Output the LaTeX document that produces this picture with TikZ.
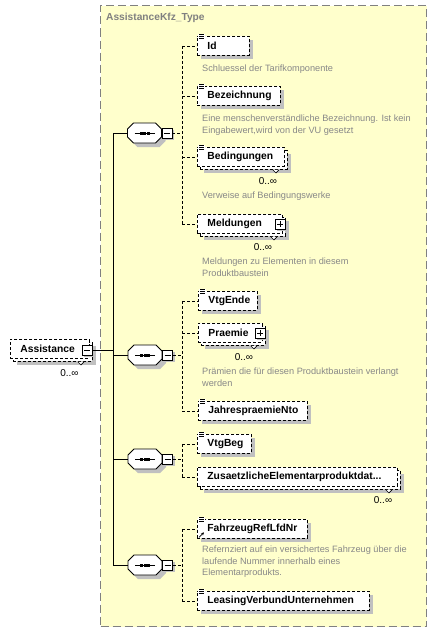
\documentclass[tikz,border=0pt]{standalone}
\usepackage{fontspec}
\setmainfont{Liberation Sans}
\usetikzlibrary{shadows,calc,arrows.meta}
\definecolor{bgyel}{RGB}{255,255,204}
\definecolor{shgray}{RGB}{192,192,192}
\definecolor{ttgray}{RGB}{128,128,128}
\definecolor{dsgray}{RGB}{136,136,136}
\definecolor{frgray}{RGB}{128,128,128}
\newcommand\elabel[2]{\makebox[#1][l]{\hspace{10pt}#2}}
\tikzset{
 ebase/.style={draw=black, fill=white, line width=0.9pt, dash pattern=on 3pt off 2pt, anchor=north west, minimum height=19pt, inner xsep=0pt, inner ysep=0pt, font=\fontsize{10.3}{12}\selectfont\bfseries},
 elem/.style={ebase, general shadow={fill=shgray, shadow xshift=4pt, shadow yshift=-4pt}},
 elemm/.style={ebase, general shadow={fill=shgray, shadow xshift=7pt, shadow yshift=-7pt}, general shadow={fill=white, draw=black, line width=0.9pt, dash pattern=on 3pt off 2pt, shadow xshift=3pt, shadow yshift=-3pt}},
 cont/.style={draw=frgray, fill=bgyel, line width=1pt, dash pattern=on 8pt off 4pt, anchor=north west, minimum width=326pt, minimum height=621pt, inner sep=0pt},
 ttl/.style={anchor=west, text=ttgray, inner sep=0pt, font=\fontsize{10.2}{12}\selectfont\bfseries},
 desc/.style={anchor=north west, text=dsgray, inner sep=0pt, align=left, font=\fontsize{9.2}{11.2}\selectfont},
 occ/.style={inner sep=0pt, font=\fontsize{10}{12}\selectfont},
 seqn/.style={minimum width=34pt, minimum height=20pt, inner sep=0pt},
 seqpic/.pic={
   \fill[shgray] (-7,-6) -- (15,-6) -- (21,0) -- (21,8) -- (15,14) -- (-7,14) -- (-13,8) -- (-13,0) -- cycle;
   \draw[line width=0.9pt, fill=white] (-11,-10) -- (11,-10) -- (17,-4) -- (17,4) -- (11,10) -- (-11,10) -- (-17,4) -- (-17,-4) -- cycle;
   \draw[line width=1pt] (-10,0) -- (10,0);
   \foreach \dx in {-5,-1.5,2} \fill (\dx,-1.5) rectangle +(3,3);},
 pmbox/.style={draw=black, fill=white, line width=0.9pt, minimum size=10pt, inner sep=0pt,
   general shadow={fill=shgray, shadow xshift=2pt, shadow yshift=-2pt}},
 minus/.style={pmbox, path picture={\draw[line width=0.8pt] ($(path picture bounding box.center)+(-3pt,0pt)$) -- ($(path picture bounding box.center)+(3pt,0pt)$);}},
 plus/.style={pmbox, path picture={\draw[line width=0.8pt] ($(path picture bounding box.center)+(-3pt,0pt)$) -- ($(path picture bounding box.center)+(3pt,0pt)$) ($(path picture bounding box.center)+(0pt,-3pt)$) -- ($(path picture bounding box.center)+(0pt,3pt)$);}},
 conn/.style={line width=0.9pt},
 opt/.style={line width=0.9pt, dash pattern=on 3pt off 2pt},
 sicon/.pic={\fill[white] (1,-2.5) rectangle (7.5,3.5);
   \foreach \yy in {-1.5,0.5,2.5} \draw[line width=0.7pt] (2,\yy) -- (7,\yy);},
 notch/.style={line width=0.7pt, fill=white}
}
\begin{document}
\begin{tikzpicture}[x=1pt,y=-1pt]
\useasboundingbox (0,0) rectangle (436,632);
\fill[white] (0,0) rectangle (436,632);
\node[cont] (cont) at (100,5) {};
\node[ttl] (ttl) at (106,18) {AssistanceKfz\_Type};

% root element
\node[elemm] (asst) at (10,339) {\elabel{79pt}{Assistance}};
\node[minus] (apm) at ($(asst.east)+(-2.5,1.5)$) {};
\draw[notch] ($(asst.south east)+(-12,3)$) -- ++(3,3) -- ++(3,-3);
\node[occ] (asocc) at (69.5,373) {0..∞};

% sequences
\node[seqn] (s1) at (144.5,133) {};
\pic at (s1) {seqpic};
\node[minus] (s1m) at (167,133) {};
\node[seqn] (s2) at (145,355) {};
\pic at (s2) {seqpic};
\node[minus] (s2m) at (167.5,355) {};
\node[seqn] (s3) at (145,459) {};
\pic at (s3) {seqpic};
\node[minus] (s3m) at (167.5,459) {};
\node[seqn] (s4) at (145,565) {};
\pic at (s4) {seqpic};
\node[minus] (s4m) at (167.5,565) {};

% main trunk
\coordinate (tr) at (113,0);
\draw[conn] (apm.east) -- (tr |- apm.east);
\draw[conn] (tr |- s1.west) -- (tr |- s4.west);
\foreach \s in {s1,s2,s3,s4} \draw[conn] (tr |- \s.west) -- (\s.west);

% ---- sequence 1 children
\node[elem] (id) at (197,36) {\elabel{52pt}{Id}};
\pic at (id.north west) {sicon};
\node[desc] (iddesc) at (202,65) {Schluessel der Tarifkomponente};

\node[elem] (bez) at (197,86) {\elabel{83pt}{Bezeichnung}};
\pic at (bez.north west) {sicon};
\node[desc] (bezdesc) at (202,115) {Eine menschenverständliche Bezeichnung. Ist kein\\Eingabewert,wird von der VU gesetzt};

\node[elemm] (bed) at (197,147) {\elabel{87pt}{Bedingungen}};
\pic at (bed.north west) {sicon};
\draw[notch] ($(bed.south east)+(-12,3)$) -- ++(3,3) -- ++(3,-3);
\node[occ] (bedocc) at (268,181) {0..∞};
\node[desc] (beddesc) at (202,192) {Verweise auf Bedingungswerke};

\node[elemm] (meld) at (197,214) {\elabel{85pt}{Meldungen}};
\node[plus] (meldp) at ($(meld.east)+(-2.5,0)$) {};
\draw[notch] ($(meld.south east)+(-12,3)$) -- ++(3,3) -- ++(3,-3);
\node[occ] (meldocc) at (263,247) {0..∞};
\node[desc] (melddesc) at (202,258) {Meldungen zu Elementen in diesem\\Produktbaustein};

\coordinate (b1) at (182,0);
\draw[opt] (s1m.east) -- (b1 |- s1m.east);
\draw[opt] (b1 |- id.west) -- (b1 |- meld.west);
\foreach \c in {id,bez,bed,meld} \draw[opt] (b1 |- \c.west) -- (\c.west);

% ---- sequence 2 children
\node[elem] (vtge) at (198,291) {\elabel{59pt}{VtgEnde}};
\pic at (vtge.north west) {sicon};

\node[elemm] (praem) at (198,323) {\elabel{64pt}{Praemie}};
\node[plus] (praemp) at ($(praem.east)+(-2.5,0)$) {};
\draw[notch] ($(praem.south east)+(-12,3)$) -- ++(3,3) -- ++(3,-3);
\node[occ] (praemocc) at (244,357) {0..∞};
\node[desc] (praemdesc) at (202,368) {Prämien die für diesen Produktbaustein verlangt\\werden};

\node[elem] (jahr) at (198,401) {\elabel{109pt}{JahrespraemieNto}};
\pic at (jahr.north west) {sicon};

\coordinate (b2) at (182,0);
\draw[opt] (s2m.east) -- (b2 |- s2m.east);
\draw[opt] (b2 |- vtge.west) -- (b2 |- jahr.west);
\foreach \c in {vtge,praem,jahr} \draw[opt] (b2 |- \c.west) -- (\c.west);

% ---- sequence 3 children
\node[elem] (vtgb) at (197,434) {\elabel{54pt}{VtgBeg}};
\pic at (vtgb.north west) {sicon};

\node[elemm] (zus) at (197,467) {\elabel{200pt}{ZusaetzlicheElementarproduktdat...}};
\draw[notch] ($(zus.south east)+(-12,3)$) -- ++(3,3) -- ++(3,-3);
\node[occ] (zusocc) at (383,500) {0..∞};

\coordinate (b3) at (182,0);
\draw[opt] (s3m.east) -- (b3 |- s3m.east);
\draw[opt] (b3 |- vtgb.west) -- (b3 |- zus.west);
\foreach \c in {vtgb,zus} \draw[opt] (b3 |- \c.west) -- (\c.west);

% ---- sequence 4 children
\node[elem] (fahr) at (197,519) {\elabel{110pt}{FahrzeugRefLfdNr}};
\pic at (fahr.north west) {sicon};
\draw[line width=0.8pt, -{Stealth[length=3pt,width=3pt]}] ($(fahr.south west)+(2,-1.5)$) -- ++(5,-5);
\node[desc] (fahrdesc) at (202,546) {Refernziert auf ein versichertes Fahrzeug über die\\laufende Nummer innerhalb eines\\Elementarprodukts.};

\node[elem] (leas) at (197,591) {\elabel{172pt}{LeasingVerbundUnternehmen}};
\pic at (leas.north west) {sicon};

\coordinate (b4) at (182,0);
\draw[opt] (s4m.east) -- (b4 |- s4m.east);
\draw[opt] (b4 |- fahr.west) -- (b4 |- leas.west);
\foreach \c in {fahr,leas} \draw[opt] (b4 |- \c.west) -- (\c.west);
\end{tikzpicture}
\end{document}
